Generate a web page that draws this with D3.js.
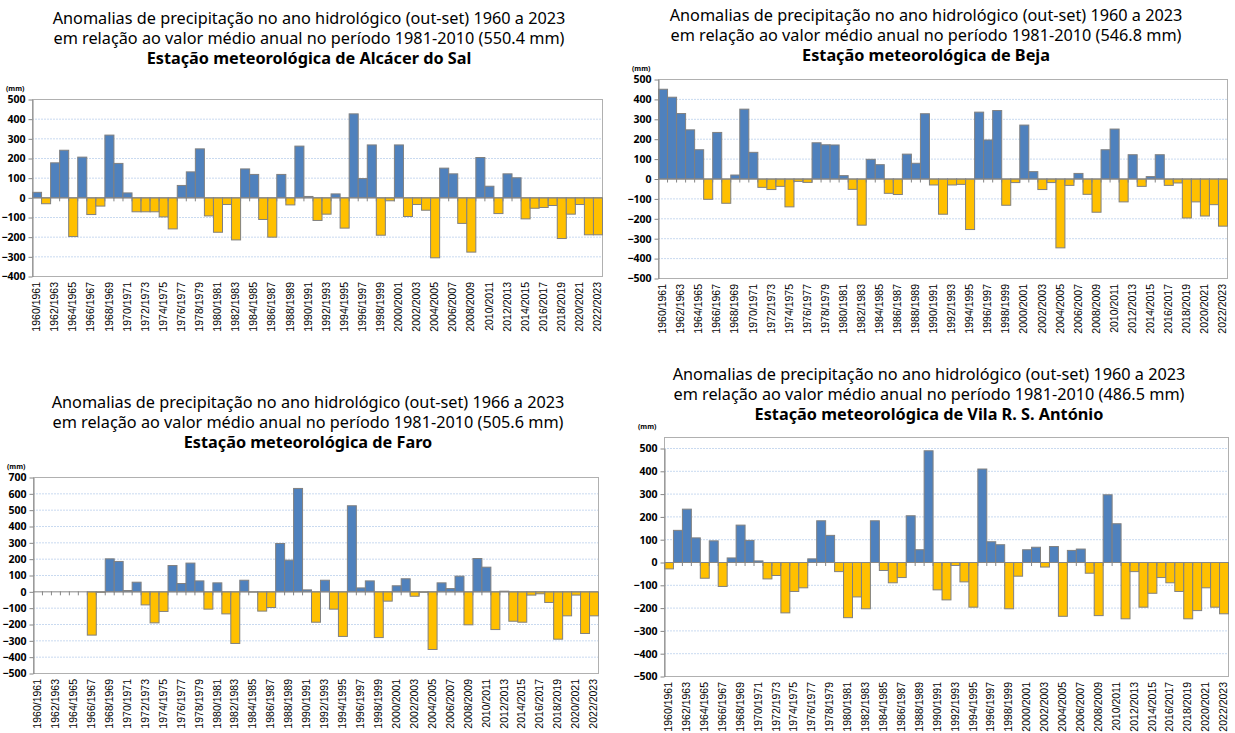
<!DOCTYPE html>
<html>
<head>
<meta charset="utf-8">
<script src="https://cdn.jsdelivr.net/npm/d3@7"></script>
<style>
  body { margin: 0; background: #fff; }
  text { font-family: "Noto Sans", "Open Sans", sans-serif; }
</style>
</head>
<body>
<script>
// hydrological years (out-set)
var years = d3.range(1960, 2023).map(function(y) { return y + "/" + (y + 1); });

// anomalies (mm)
var alcacerValues = [28, -30, 178, 242, -197, 207, -85, -42, 319, 175,
    25, -71, -71, -71, -97, -158, 63, 132, 249, -92,
    -175, -34, -214, 147, 119, -110, -200, 119, -36, 263,
    7, -115, -83, 20, -154, 427, 98, 269, -190, -15,
    269, -95, -34, -63, -305, 151, 122, -130, -276, 205,
    59, -80, 122, 102, -107, -53, -49, -39, -207, -83,
    -34, -188, -188];

var bejaValues = [451, 411, 329, 247, 147, -102, 234, -122, 20, 351,
    134, -42, -53, -37, -140, -12, -17, 182, 172, 171,
    17, -52, -232, 99, 72, -72, -78, 125, 79, 328,
    -30, -177, -30, -27, -254, 336, 196, 344, -132, -18,
    271, 37, -53, -18, -346, -32, 28, -77, -167, 147,
    251, -115, 122, -37, 12, 122, -32, -20, -196, -115,
    -186, -129, -237];

var faroValues = [null, null, null, null, null, null, -265, -3, 202, 186,
    8, 59, -80, -190, -120, 161, 51, 176, 67, -106,
    55, -135, -316, 71, -2, -118, -96, 296, 194, 633,
    12, -186, 71, -106, -273, 527, 24, 67, -280, -57,
    37, 80, -27, -3, -353, 55, 20, 96, -202, 204,
    151, -231, 4, -180, -186, -20, -12, -65, -290, -147,
    -20, -255, -147];

var vilaValues = [-28, 141, 234, 108, -69, 95, -105, 20, 164, 97,
    7, -72, -57, -221, -127, -111, 16, 183, 119, -40,
    -242, -151, -203, 183, -35, -89, -66, 205, 56, 490,
    -120, -164, -13, -85, -196, 410, 91, 78, -203, -60,
    56, 67, -20, 70, -236, 53, 59, -47, -233, 297,
    170, -247, -40, -196, -135, -66, -89, -127, -247, -211,
    -111, -196, -225];

var stations = ["Alcácer do Sal", "Beja", "Faro", "Vila R. S. António"];
var startYears = [1960, 1960, 1966, 1960];
var meanValues = ["550.4", "546.8", "505.6", "486.5"];

var ticksAlcacer = [-400, -300, -200, -100, 0, 100, 200, 300, 400, 500];
var ticksBeja = [-500, -400, -300, -200, -100, 0, 100, 200, 300, 400, 500];
var ticksFaro = [-500, -400, -300, -200, -100, 0, 100, 200, 300, 400, 500, 600, 700];
var ticksVila = [-500, -400, -300, -200, -100, 0, 100, 200, 300, 400, 500];

var width = 1235, height = 733;

var svg = d3.select("body").append("svg")
    .attr("width", width)
    .attr("height", height);

// title font size fitted to the reference line width
var probe = svg.append("text").attr("font-size", 16)
    .text("Anomalias de precipitação no ano hidrológico (out-set) 1960 a 2023");
var titleSize = 16 * 513 / probe.node().getComputedTextLength();
probe.remove();

var panels = [
    {values: alcacerValues, ticks: ticksAlcacer, left: 32, right: 602, top: 99, bottom: 276, frameTop: 99, titleX: 309, titleY: 18},
    {values: bejaValues, ticks: ticksBeja, left: 658, right: 1227, top: 79, bottom: 278, frameTop: 79, titleX: 926, titleY: 15},
    {values: faroValues, ticks: ticksFaro, left: 33, right: 598, top: 477, bottom: 673, frameTop: 477, titleX: 308, titleY: 402},
    {values: vilaValues, ticks: ticksVila, left: 664, right: 1228, top: 448, bottom: 676, frameTop: 437, titleX: 929, titleY: 374}
];

panels.forEach(function(p, i) { drawPanel(p, i); });

function drawPanel(p, i) {
    var g = svg.append("g");

    var x = d3.scaleBand().domain(years).range([p.left, p.right]).padding(0);
    var y = d3.scaleLinear().domain(d3.extent(p.ticks)).range([p.bottom, p.top]);

    // titles
    var lines = [
        "Anomalias de precipitação no ano hidrológico (out-set) " + startYears[i] + " a 2023",
        "em relação ao valor médio anual no período 1981-2010 (" + meanValues[i] + " mm)",
        "Estação meteorológica de " + stations[i]
    ];
    g.selectAll(".title")
        .data(lines)
        .enter().append("text")
        .attr("class", "title")
        .attr("x", p.titleX)
        .attr("y", function(d, k) { return p.titleY + k * 20; })
        .attr("dy", "0.35em")
        .attr("text-anchor", "middle")
        .attr("font-size", titleSize)
        .attr("font-weight", function(d, k) { return k == 2 ? "bold" : "normal"; })
        .attr("fill", "#000")
        .text(function(d) { return d; });

    // gridlines
    g.append("g")
        .selectAll("line")
        .data(p.ticks.filter(function(t) { return t != 0; }))
        .enter().append("line")
        .attr("x1", p.left)
        .attr("x2", p.right)
        .attr("y1", function(d) { return y(d) + 0.5; })
        .attr("y2", function(d) { return y(d) + 0.5; })
        .attr("stroke", "#c9daf0")
        .attr("stroke-dasharray", "2,1");

    // frame
    g.append("rect")
        .attr("x", p.left + 0.5)
        .attr("y", p.frameTop + 0.5)
        .attr("width", p.right - p.left)
        .attr("height", p.bottom - p.frameTop)
        .attr("fill", "none")
        .attr("stroke", "#b0b0b0");

    // bars
    var data = years.map(function(yr, k) { return {year: yr, value: p.values[k]}; })
        .filter(function(d) { return d.value != null; });

    g.append("g")
        .selectAll("rect")
        .data(data)
        .enter().append("rect")
        .attr("x", function(d) { return x(d.year) + 0.5; })
        .attr("y", function(d) { return Math.min(y(d.value), y(0)) + 0.5; })
        .attr("width", x.bandwidth())
        .attr("height", function(d) { return Math.abs(y(d.value) - y(0)); })
        .attr("fill", function(d) { return d.value >= 0 ? "#4f81bd" : "#ffc000"; })
        .attr("stroke", "#808080")
        .attr("stroke-width", 1);

    // zero line with category ticks
    g.append("line")
        .attr("x1", p.left)
        .attr("x2", p.right)
        .attr("y1", y(0) + 0.5)
        .attr("y2", y(0) + 0.5)
        .attr("stroke", "#868686");

    g.append("g")
        .selectAll("line")
        .data(years.slice(1))
        .enter().append("line")
        .attr("x1", function(d) { return x(d) + 0.5; })
        .attr("x2", function(d) { return x(d) + 0.5; })
        .attr("y1", y(0))
        .attr("y2", y(0) + 4)
        .attr("stroke", "#868686");

    // y axis
    var yAxis = g.append("g")
        .attr("transform", "translate(" + (p.left + 0.5) + ",0.5)")
        .call(d3.axisLeft(y).tickValues(p.ticks).tickSize(4).tickSizeOuter(0).tickPadding(3));
    yAxis.select(".domain").attr("stroke", "#868686");
    yAxis.selectAll(".tick line").attr("stroke", "#868686");
    yAxis.selectAll(".tick text")
        .attr("font-size", 10.5)
        .attr("font-weight", "bold")
        .attr("fill", "#000")
        .style("font-family", "'Noto Sans', sans-serif");

    // unit
    g.append("text")
        .attr("x", p.left - 26)
        .attr("y", p.frameTop - 10)
        .attr("dy", "0.35em")
        .attr("font-size", 7)
        .attr("font-weight", "bold")
        .text("(mm)");

    // x labels every other year
    g.append("g")
        .selectAll("text")
        .data(years.filter(function(d, k) { return k % 2 == 0; }))
        .enter().append("text")
        .attr("transform", function(d) {
            return "translate(" + (x(d) + x.bandwidth() / 2) + "," + (p.bottom + 6) + ") rotate(-90)";
        })
        .attr("dy", "0.35em")
        .attr("text-anchor", "end")
        .attr("font-size", 10.5)
        .attr("fill", "#000")
        .style("font-family", "'Liberation Sans', sans-serif")
        .text(function(d) { return d; });
}
</script>
</body>
</html>
